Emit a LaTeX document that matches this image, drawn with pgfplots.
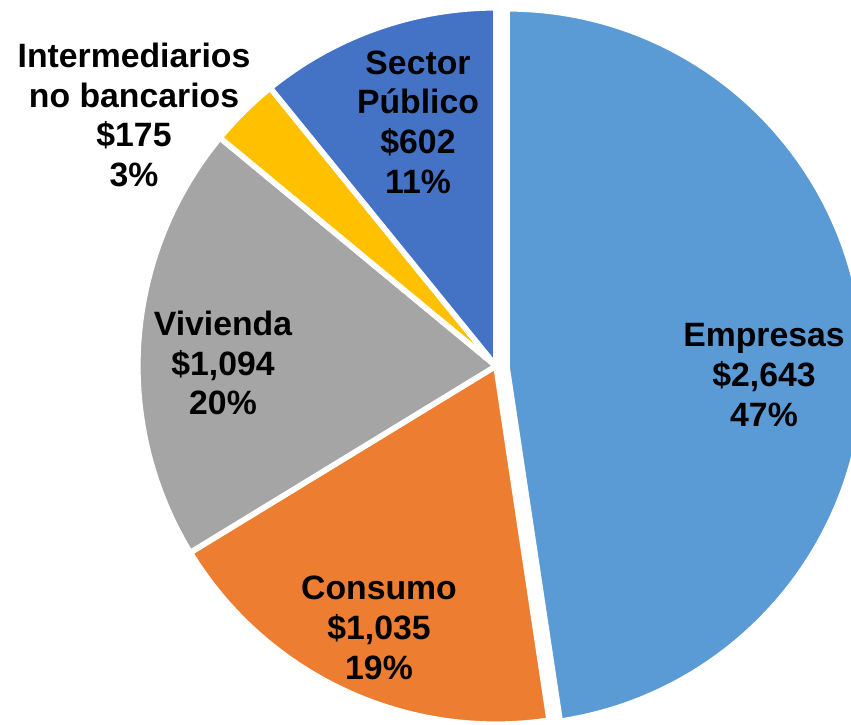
\documentclass[border=0pt]{standalone}
\usepackage{pgfplots}
\pgfplotsset{compat=1.18}
\usepackage{fontspec}
\setmainfont{Liberation Sans}

\definecolor{cEmp}{HTML}{5B9BD5}
\definecolor{cCon}{HTML}{ED7D31}
\definecolor{cViv}{HTML}{A5A5A5}
\definecolor{cInt}{HTML}{FFC000}
\definecolor{cSec}{HTML}{4472C4}

\tikzset{lbl/.style={font=\fontsize{9.6}{11.3}\selectfont\bfseries, align=center, text=black, inner sep=0pt}}

% slice: colour, centre (axis cs), start angle, end angle
\newcommand\slice[4]{%
  \filldraw[fill=#1, draw=white, line width=1.6pt, line join=round]
    (axis cs:#2) -- ++(#3:3.58cm) arc[start angle=#3, end angle=#4, radius=3.58cm] -- cycle;}

\begin{document}
\begin{tikzpicture}
% values (millions)
\pgfmathsetmacro{\tot}{2643+1035+1094+175+602}
\pgfmathsetmacro{\aB}{90-2643/\tot*360}
\pgfmathsetmacro{\aC}{\aB-1035/\tot*360}
\pgfmathsetmacro{\aD}{\aC-1094/\tot*360}
\pgfmathsetmacro{\aE}{\aD-175/\tot*360}
\begin{axis}[hide axis, x=0.01cm, y=0.01cm,
    xmin=-496, xmax=355, ymin=-359, ymax=366, clip=true]
\slice{cEmp}{11,-1}{90}{\aB}
\slice{cCon}{0,0}{\aB}{\aC}
\slice{cViv}{0,0}{\aC}{\aD}
\slice{cInt}{0,0}{\aD}{\aE}
\slice{cSec}{0,0}{\aE}{-270}
\path (axis cs:-496,-359) rectangle (axis cs:355,366);
\node[lbl] at (axis cs:268,-9) {Empresas\\\$2,643\\47\%};
\node[lbl] at (axis cs:-117,-262) {Consumo\\\$1,035\\19\%};
\node[lbl] at (axis cs:-273,3) {Vivienda\\\$1,094\\20\%};
\node[lbl] at (axis cs:-362,251) {Intermediarios\\no bancarios\\\$175\\3\%};
\node[lbl] at (axis cs:-78,244) {Sector\\Público\\\$602\\11\%};
\end{axis}
\end{tikzpicture}
\end{document}
